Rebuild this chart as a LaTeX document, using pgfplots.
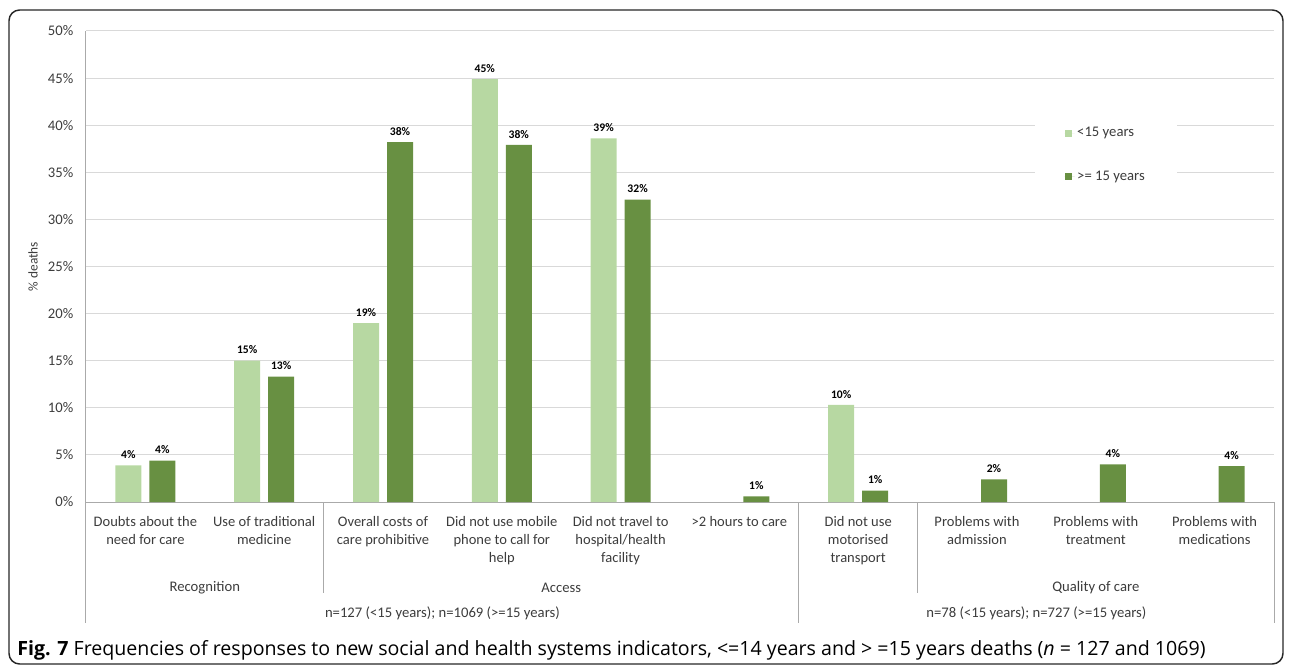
\documentclass[border=0pt]{standalone}
\usepackage{pgfplots}
\pgfplotsset{compat=1.18}
\usepackage{fontspec}
\setmainfont{Carlito}
\newfontfamily\capfont{Open Sans}

\definecolor{lightg}{RGB}{183,216,162}
\definecolor{darkg}{RGB}{104,144,66}
\definecolor{gridc}{RGB}{217,217,217}
\definecolor{axisc}{RGB}{170,170,170}
\definecolor{txt}{RGB}{60,60,60}

\pgfplotsset{sq legend/.style={legend image code/.code={\fill[##1] (0pt,-2.7pt) rectangle (5.4pt,2.7pt); \path (0pt,0pt) -- (7.5pt,0pt);}}}

\begin{document}
\begin{tikzpicture}
\begin{axis}[
    at={(64.5pt,-376.5pt)}, anchor=south west,
    scale only axis, width=891pt, height=353.25pt,
    xmin=0, xmax=10, ymin=0, ymax=50,
    ybar=6pt, bar width=19.5pt,
    axis lines*=left, axis line style={axisc, line width=0.75pt},
    ymajorgrids, grid style={gridc, line width=0.75pt},
    major tick length=0pt,
    ytick={0,5,...,50},
    yticklabel={\pgfmathprintnumber{\tick}\%},
    /pgf/number format/assume math mode=true,
    yticklabel style={font=\fontsize{11}{13}\selectfont, text=txt, xshift=-6pt},
    xtick={0.5,1.5,...,9.5},
    xticklabels={
        Doubts about the\\need for care,
        Use of traditional\\medicine,
        Overall costs of\\care prohibitive,
        Did not use mobile\\phone to call for\\help,
        Did not travel to\\hospital/health\\facility,
        >2 hours to care,
        Did not use\\motorised\\transport,
        Problems with\\admission,
        Problems with\\treatment,
        Problems with\\medications
    },
    xticklabel style={align=center, font=\fontsize{10.9}{13.2}\selectfont, text=txt, yshift=-7.5pt},
    ylabel={\% deaths},
    ylabel style={at={(axis description cs:-0.0446,0.5)}, anchor=center, font=\fontsize{10}{12}\selectfont, text=txt},
    nodes near coords={\pgfmathprintnumber[fixed,precision=0]{\pgfplotspointmeta}\%},
    nodes near coords style={font=\bfseries\fontsize{8.7}{10}\selectfont, black, yshift=1.5pt},
    legend style={at={(0.7988,0.737)}, anchor=west, draw=none, fill=white,
        inner xsep=22pt, inner ysep=12pt, row sep=20pt,
        font=\fontsize{11}{13}\selectfont, text=txt},
    legend cell align=left,
    clip=false,
]
\addplot[fill=lightg, draw=none, sq legend] coordinates {
    (0.5,3.9) (1.5,15.0) (2.5,19.0) (3.5,44.9) (4.5,38.6) (6.5,10.3)
};
\addplot[fill=darkg, draw=none, sq legend] coordinates {
    (0.5,4.4) (1.5,13.3) (2.5,38.2) (3.5,37.9) (4.5,32.1) (5.5,0.6)
    (6.5,1.2) (7.5,2.4) (8.5,4.0) (9.5,3.8)
};
\legend{<15 years, >= 15 years}

% group separators below the category axis
\draw[axisc, line width=0.75pt] (axis cs:0,0) -- ++(0pt,-90.75pt);
\draw[axisc, line width=0.75pt] (axis cs:2,0) -- ++(0pt,-68.25pt);
\draw[axisc, line width=0.75pt] (axis cs:6,0) -- ++(0pt,-90.75pt);
\draw[axisc, line width=0.75pt] (axis cs:7,0) -- ++(0pt,-68.25pt);
\draw[axisc, line width=0.75pt] (axis cs:10,0) -- ++(0pt,-90.75pt);

\begin{scope}[font=\fontsize{11}{13}\selectfont, text=txt]
\node at ([yshift=-64.5pt]axis cs:1,0) {Recognition};
\node at ([yshift=-64.5pt]axis cs:4,0) {Access};
\node at ([yshift=-64.5pt]axis cs:8.5,0) {Quality of care};
\node at ([yshift=-83.5pt]axis cs:3,0) {n=127 (<15 years); n=1069 (>=15 years)};
\node at ([yshift=-83.5pt]axis cs:8,0) {n=78 (<15 years); n=727 (>=15 years)};
\end{scope}
\end{axis}

\begin{scope}[x=0.75pt, y=-0.75pt]
\draw[line width=1.1pt, rounded corners=8pt, black!85] (9,10) rectangle (1283,664);
\node[anchor=west, inner sep=0pt, font=\capfont\fontsize{14.7}{16}\selectfont] at (17,650)
    {\textbf{Fig. 7} Frequencies of responses to new social and health systems indicators, <=14 years and > =15 years deaths (\textit{n} = 127 and 1069)};
\pgfresetboundingbox
\path[use as bounding box] (0,0) rectangle (1290,666);
\end{scope}
\end{tikzpicture}
\end{document}
